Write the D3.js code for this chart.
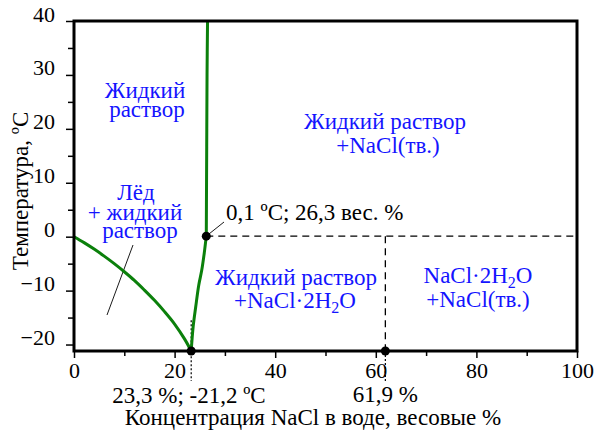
<!DOCTYPE html>
<html><head><meta charset="utf-8">
<script src="https://cdn.jsdelivr.net/npm/d3@7/dist/d3.min.js"></script>
<style>
body{margin:0;background:#fff;}
text{font-family:"Liberation Serif","Times New Roman",serif;}
</style></head>
<body><svg id="c" width="600" height="436"></svg>
<script>
// Data
const xMajorTicks = [0, 20, 40, 60, 80, 100];
const xMinorTicks = [10, 30, 50, 70, 90];
const yMajorTicks = [-20, -10, 0, 10, 20, 30, 40];
const yMinorTicks = [-15, -5, 5, 15, 25, 35];
// ice + liquid boundary (freezing curve): concentration %, temperature °C
const iceConc = [0, 2, 4, 6, 8, 10, 12, 14, 16, 18, 20, 22, 23.3];
const iceTemp = [0, -1.1, -2.3, -3.6, -5.0, -6.5, -8.1, -9.9, -11.8, -13.9, -16.2, -19.0, -21.2];
// dihydrate solubility branch
const hydConc = [23.3, 23.7, 24.2, 24.8, 25.4, 25.9, 26.3];
const hydTemp = [-21.2, -16.6, -13, -9, -6.2, -3, 0.1];
// NaCl solubility branch
const saltConc = [26.3, 26.35, 26.4, 26.45, 26.55];
const saltTemp = [0.1, 10, 20, 30, 40];
// special points
const pointConc = [26.3, 23.3, 61.9];
const pointTemp = [0.1, -21.2, -21.2];
const peritecticT = 0.1, eutecticT = -21.2, hydrateConc = 61.9, eutecticConc = 23.3;

const FONT = "'Liberation Serif','Times New Roman',serif";
const svg = d3.select("#c");
const x = d3.scaleLinear().domain([0, 100]).range([74, 577]);
const y = d3.scaleLinear().domain([-21.2, 40]).range([351, 21]);
const blue = "#1414ff", green = "#0b800b";

// axes
function styleAxis(g){ g.attr("font-family",FONT).attr("font-size",22);
  g.select(".domain").remove(); g.selectAll("line").attr("stroke","#000").attr("stroke-width",1.5);
  g.selectAll("text").attr("fill","#000").style("font-family",FONT); }
svg.append("g").attr("transform",`translate(0,${y(-21.2)})`)
  .call(d3.axisBottom(x).tickValues(xMajorTicks).tickSize(7).tickPadding(4).tickFormat(d3.format("d"))).call(styleAxis);
svg.append("g").attr("transform",`translate(0,${y(-21.2)})`)
  .call(d3.axisBottom(x).tickValues(xMinorTicks).tickSize(5).tickFormat("")).call(styleAxis);
svg.append("g").attr("transform",`translate(${x(0)},0)`)
  .call(d3.axisLeft(y).tickValues(yMajorTicks).tickSize(8).tickPadding(11).tickFormat(d3.format("d"))).call(styleAxis)
  .selectAll("text").attr("dy","0");
svg.append("g").attr("transform",`translate(${x(0)},0)`)
  .call(d3.axisLeft(y).tickValues(yMinorTicks).tickSize(6).tickFormat("")).call(styleAxis);

// dashed lines
svg.append("line").attr("x1",x(26.3)).attr("x2",x(100)).attr("y1",y(peritecticT)).attr("y2",y(peritecticT))
  .attr("stroke","#000").attr("stroke-width",1.3).attr("stroke-dasharray","7,5");
svg.append("line").attr("x1",x(hydrateConc)).attr("x2",x(hydrateConc)).attr("y1",y(peritecticT)).attr("y2",y(eutecticT))
  .attr("stroke","#000").attr("stroke-width",1.3).attr("stroke-dasharray","7,5");
// dotted markers
svg.append("line").attr("x1",x(hydrateConc)).attr("x2",x(hydrateConc)).attr("y1",y(eutecticT)).attr("y2",y(eutecticT)+30)
  .attr("stroke","#000").attr("stroke-width",1.2).attr("stroke-dasharray","2,2");
svg.append("line").attr("x1",x(eutecticConc)).attr("x2",x(eutecticConc)).attr("y1",y(-15.5)).attr("y2",y(eutecticT)+30)
  .attr("stroke","#000").attr("stroke-width",1.2).attr("stroke-dasharray","2,2");

// pointer line
svg.append("line").attr("x1",133).attr("y1",245).attr("x2",107).attr("y2",315).attr("stroke","#000").attr("stroke-width",0.9);

// curves
const line = d3.line().x(d=>x(d[0])).y(d=>y(d[1])).curve(d3.curveCatmullRom);
const zip = (a,b)=>a.map((v,i)=>[v,b[i]]);
[zip(iceConc,iceTemp), zip(hydConc,hydTemp), zip(saltConc,saltTemp)].forEach(pts=>{
  svg.append("path").attr("d",line(pts)).attr("fill","none").attr("stroke",green).attr("stroke-width",3);
});

// frame
svg.append("rect").attr("x",x(0)).attr("y",y(40)).attr("width",x(100)-x(0)).attr("height",y(-21.2)-y(40))
  .attr("fill","none").attr("stroke","#000").attr("stroke-width",3);

// points
svg.selectAll("circle.pt").data(zip(pointConc,pointTemp)).enter().append("circle")
  .attr("cx",d=>x(d[0])).attr("cy",d=>y(d[1])).attr("r",4.5).attr("fill","#000");

// annotation pointer
svg.append("line").attr("x1",x(26.3)).attr("y1",y(0.1)).attr("x2",224).attr("y2",222).attr("stroke","#000").attr("stroke-width",0.9);

// texts
function txt(t,xx,yy,opt={}){ return svg.append("text").attr("x",xx).attr("y",yy).attr("text-anchor",opt.anchor||"middle")
  .attr("font-family",FONT).attr("font-size",opt.size||23).attr("fill",opt.fill||"#000").text(t); }
function sub(pre,s,post,xx,yy){ const g = svg.append("text").attr("x",xx).attr("y",yy).attr("text-anchor","middle")
  .attr("font-family",FONT).attr("font-size",23).attr("fill",blue);
  g.append("tspan").text(pre); g.append("tspan").attr("dy",5).attr("font-size",16).text(s); g.append("tspan").attr("dy",-5).text(post); }
txt("Жидкий",145,98,{fill:blue}); txt("раствор",147,117,{fill:blue});
txt("Лёд",136,200,{fill:blue}); txt("+ жидкий",135,220,{fill:blue}); txt("раствор",140,238,{fill:blue});
txt("Жидкий раствор",385,129,{fill:blue}); txt("+NaCl(тв.)",388,153,{fill:blue});
txt("Жидкий раствор",296,285,{fill:blue});
sub("+NaCl·2H","2","O",295,308);
sub("NaCl·2H","2","O",478,283);
txt("+NaCl(тв.)",478,307,{fill:blue});
txt("0,1 ºC; 26,3 вес. %",226,220,{anchor:"start"});
txt("23,3 %; -21,2 ºC",189,403);
txt("61,9 %",x(hydrateConc),402);
txt("Концентрация NaCl в воде, весовые %",313,425);
svg.append("text").attr("transform","translate(28,191) rotate(-90)").attr("text-anchor","middle")
  .attr("font-family",FONT).attr("font-size",23).text("Температура, ºC");
</script></body></html>
